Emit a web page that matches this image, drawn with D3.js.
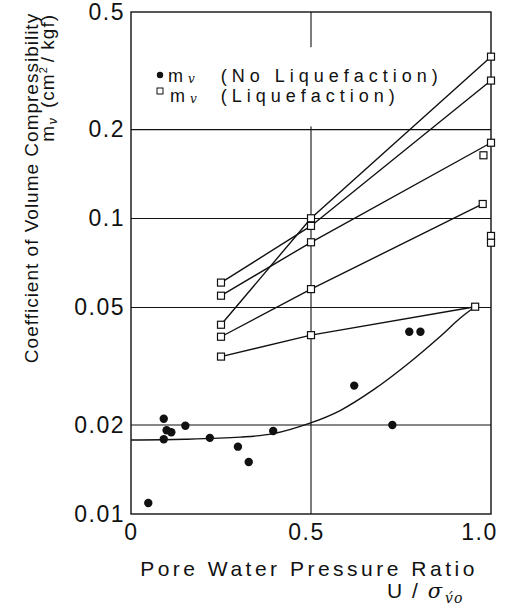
<!DOCTYPE html>
<html>
<head>
<meta charset="utf-8">
<script src="https://cdn.jsdelivr.net/npm/d3@7"></script>
<style>
  body { margin: 0; background: #fff; }
  svg text { font-family: "Liberation Sans", Arial, sans-serif; fill: #111; }
</style>
</head>
<body>
<svg id="chart"></svg>
<script>
// no liquefaction (filled dots)
const noLiqU  = [0.048, 0.091, 0.091, 0.099, 0.112, 0.151, 0.219, 0.297, 0.327, 0.395, 0.620, 0.726, 0.773, 0.804];
const noLiqMv = [0.0109, 0.0210, 0.0179, 0.0192, 0.0189, 0.0199, 0.0181, 0.0169, 0.0150, 0.0191, 0.0272, 0.0200, 0.0414, 0.0414];

// liquefaction specimens, joined by lines
const liqLineU = [
  [0.25, 0.5, 1.0],
  [0.25, 0.5, 1.0],
  [0.25, 0.5, 1.0],
  [0.25, 0.5, 0.977],
  [0.25, 0.5, 0.956]
];
const liqLineMv = [
  [0.0607, 0.0944, 0.293],
  [0.0548, 0.0831, 0.1805],
  [0.0437, 0.1002, 0.353],
  [0.0398, 0.0577, 0.112],
  [0.0341, 0.0403, 0.0503]
];
// liquefaction squares with no line
const liqLoneU  = [0.979, 1.0, 1.0];
const liqLoneMv = [0.1637, 0.0873, 0.0828];

// hand drawn trend through the no-liquefaction points
const curveU  = [0, 0.15, 0.303, 0.395, 0.497, 0.581, 0.673, 0.766, 0.858, 0.914, 0.956];
const curveMv = [0.0178, 0.0179, 0.0182, 0.0187, 0.0203, 0.0224, 0.0263, 0.0320, 0.0398, 0.0460, 0.0503];

const yTicks = [0.01, 0.02, 0.05, 0.1, 0.2, 0.5];
const yTickLabels = ["0.01", "0.02", "0.05", "0.1", "0.2", "0.5"];
const xTicks = [0, 0.5, 1.0];
const xTickLabels = ["0", "0.5", "1.0"];
const yGrid = [0.02, 0.05, 0.1, 0.2];
const xGrid = [0.5];

const W = 509, H = 609;
const margin = { top: 12, right: 18, bottom: 95, left: 131 };

const svg = d3.select("#chart").attr("width", W).attr("height", H);

const x = d3.scaleLinear().domain([0, 1]).range([margin.left, W - margin.right]);
const y = d3.scaleLog().domain([0.01, 0.5]).range([H - margin.bottom, margin.top]);

const ink = "#111";

// gridlines
svg.append("g").selectAll("line")
  .data(yGrid).enter().append("line")
  .attr("x1", x(0)).attr("x2", x(1))
  .attr("y1", d => y(d)).attr("y2", d => y(d))
  .attr("stroke", ink).attr("stroke-width", 1.1);

svg.append("g").selectAll("line")
  .data(xGrid).enter().append("line")
  .attr("x1", d => x(d)).attr("x2", d => x(d))
  .attr("y1", y(0.01)).attr("y2", y(0.5))
  .attr("stroke", ink).attr("stroke-width", 1.1);

// legend backing hides the gridline behind it
const legend = svg.append("g");
legend.append("rect")
  .attr("x", x(0.03)).attr("y", y(0.38))
  .attr("width", x(0.9) - x(0.03)).attr("height", y(0.205) - y(0.38))
  .attr("fill", "#fff");

// frame
svg.append("rect")
  .attr("x", x(0)).attr("y", y(0.5))
  .attr("width", x(1) - x(0)).attr("height", y(0.01) - y(0.5))
  .attr("fill", "none").attr("stroke", ink).attr("stroke-width", 1.4);

// axes: labels only, no tick marks
const yAxis = d3.axisLeft(y).tickValues(yTicks)
  .tickFormat((d, i) => yTickLabels[i]).tickSize(0).tickPadding(6);
svg.append("g").attr("transform", `translate(${x(0)},0)`).call(yAxis)
  .call(g => g.select(".domain").remove())
  .selectAll("text")
  .style("font-size", "23px").style("letter-spacing", "1.5px")
  .attr("fill", ink);

const xAxis = d3.axisBottom(x).tickValues(xTicks)
  .tickFormat((d, i) => xTickLabels[i]).tickSize(0).tickPadding(10);
svg.append("g").attr("transform", `translate(0,${y(0.01)})`).call(xAxis)
  .call(g => g.select(".domain").remove())
  .selectAll("text")
  .style("font-size", "23px").style("letter-spacing", "1.5px")
  .attr("dx", d => d === 0 ? 0 : (d === 0.5 ? -5 : -12))
  .attr("fill", ink);

// trend curve
const curveLine = d3.line()
  .x(d => x(d[0])).y(d => y(d[1]))
  .curve(d3.curveCatmullRom.alpha(0.5));
svg.append("path")
  .datum(curveU.map((u, i) => [u, curveMv[i]]))
  .attr("d", curveLine)
  .attr("fill", "none").attr("stroke", ink).attr("stroke-width", 1.4);

// liquefaction lines
const straight = d3.line().x(d => x(d[0])).y(d => y(d[1]));
svg.append("g").selectAll("path")
  .data(liqLineU.map((us, i) => us.map((u, j) => [u, liqLineMv[i][j]])))
  .enter().append("path")
  .attr("d", straight)
  .attr("fill", "none").attr("stroke", ink).attr("stroke-width", 1.4);

// square markers
const squares = liqLineU.flatMap((us, i) => us.map((u, j) => [u, liqLineMv[i][j]]))
  .concat(liqLoneU.map((u, i) => [u, liqLoneMv[i]]));
const sq = 7;
svg.append("g").selectAll("rect")
  .data(squares).enter().append("rect")
  .attr("x", d => x(d[0]) - sq / 2).attr("y", d => y(d[1]) - sq / 2)
  .attr("width", sq).attr("height", sq)
  .attr("fill", "#fff").attr("stroke", ink).attr("stroke-width", 1.2);

// filled dots
svg.append("g").selectAll("circle")
  .data(noLiqU.map((u, i) => [u, noLiqMv[i]])).enter().append("circle")
  .attr("cx", d => x(d[0])).attr("cy", d => y(d[1]))
  .attr("r", 4.2).attr("fill", ink);

// legend
const legendRows = [
  { label: "(No Liquefaction)", marker: "dot" },
  { label: "(Liquefaction)", marker: "square" }
];
const lx = 160, ly = 81.5, lstep = 20.5;
legendRows.forEach((row, i) => {
  const yy = ly + i * lstep;
  if (row.marker === "dot") {
    legend.append("circle").attr("cx", lx).attr("cy", yy - 6.5).attr("r", 3.2).attr("fill", ink);
  } else {
    legend.append("rect").attr("x", lx - 3).attr("y", yy - 14).attr("width", 6).attr("height", 6)
      .attr("fill", "#fff").attr("stroke", ink).attr("stroke-width", 1);
  }
  const t = legend.append("text").attr("x", lx + (i === 0 ? 8 : 10)).attr("y", yy)
    .style("font-size", "18px").style("letter-spacing", "5px");
  t.append("tspan").text("m");
  t.append("tspan").attr("dy", 1).style("font-family", "'DejaVu Serif', serif")
    .style("font-style", "italic").style("font-size", "12px").style("letter-spacing", "0px").text("v");
  t.append("tspan").attr("dy", -1).attr("dx", i === 0 ? 26 : 24).text(row.label);
});

// y title
svg.append("text")
  .attr("transform", "translate(38,188) rotate(-90)")
  .attr("text-anchor", "middle")
  .style("font-size", "19px").style("letter-spacing", "1px")
  .text("Coefficient of Volume Compressibility");

const yt2 = svg.append("text")
  .attr("transform", "translate(54,14) rotate(-90)")
  .attr("text-anchor", "end")
  .style("font-size", "19px").style("letter-spacing", "1px");
yt2.append("tspan").text("m");
yt2.append("tspan").attr("dy", 3).style("font-family", "'DejaVu Serif', serif")
  .style("font-style", "italic").style("font-size", "12px").style("letter-spacing", "0px").text("v");
yt2.append("tspan").attr("dy", -3).attr("dx", 10).text("(cm");
yt2.append("tspan").attr("dy", -7).style("font-size", "11px").text("2");
yt2.append("tspan").attr("dy", 7).attr("dx", 4).text("/ kgf)");

// x title
svg.append("text")
  .attr("x", 309).attr("y", 576)
  .attr("text-anchor", "middle")
  .style("font-size", "21px").style("letter-spacing", "3.5px")
  .text("Pore Water Pressure Ratio");

const xt2 = svg.append("text")
  .attr("x", 387).attr("y", 598)
  .style("font-size", "21px").style("letter-spacing", "2px");
xt2.append("tspan").text("U / ");
xt2.append("tspan").style("font-family", "'DejaVu Serif', serif").style("font-style", "italic").text("σ");
xt2.append("tspan").attr("dx", 1).attr("dy", 5).style("font-family", "'DejaVu Serif', serif")
  .style("font-style", "italic").style("font-size", "14px").style("letter-spacing", "1px").text("v\u0301o");
</script>
</body>
</html>
